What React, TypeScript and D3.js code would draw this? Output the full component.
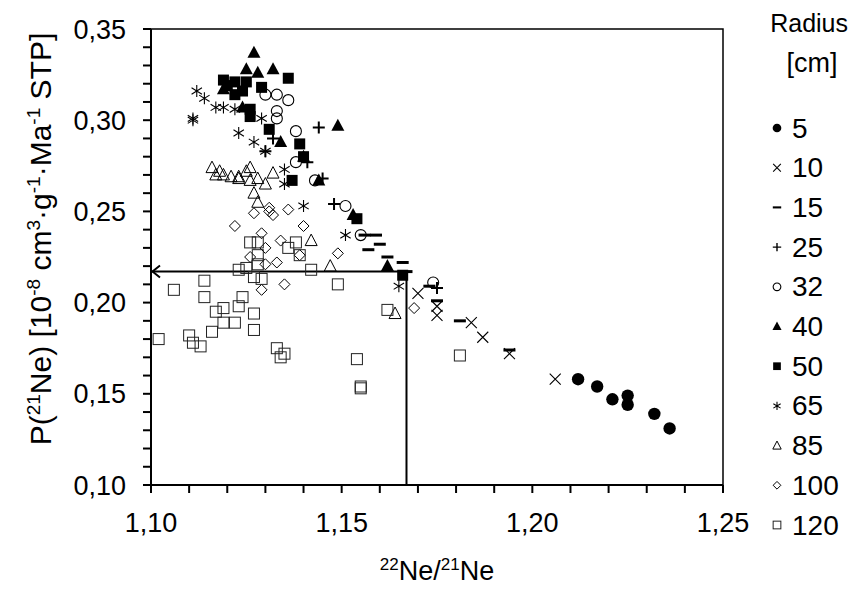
import React from 'react';
import * as d3 from 'd3';

// radius series: [22Ne/21Ne, P(21Ne)]
const r5 = [[1.212, 0.158], [1.217, 0.154], [1.221, 0.147], [1.225, 0.149], [1.225, 0.144], [1.232, 0.139], [1.236, 0.131]];
const r10 = [[1.170, 0.205], [1.175, 0.198], [1.175, 0.193], [1.184, 0.189], [1.187, 0.181], [1.194, 0.172], [1.206, 0.158]];
const r15 = [[1.156, 0.237], [1.159, 0.237], [1.160, 0.232], [1.157, 0.229], [1.162, 0.225], [1.166, 0.222], [1.167, 0.217],
  [1.173, 0.209], [1.175, 0.201], [1.181, 0.190], [1.194, 0.174]];
const r25 = [[1.144, 0.296], [1.132, 0.290], [1.130, 0.283], [1.141, 0.277], [1.145, 0.268], [1.148, 0.254], [1.175, 0.208]];
const r32 = [[1.130, 0.314], [1.133, 0.314], [1.136, 0.311], [1.133, 0.305], [1.133, 0.301], [1.138, 0.294], [1.138, 0.277],
  [1.143, 0.267], [1.151, 0.253], [1.155, 0.237], [1.174, 0.211]];
const r40 = [[1.127, 0.337], [1.125, 0.328], [1.128, 0.326], [1.132, 0.328], [1.119, 0.317], [1.124, 0.307], [1.134, 0.288],
  [1.149, 0.297], [1.140, 0.280], [1.144, 0.267], [1.153, 0.248], [1.162, 0.220]];
const r50 = [[1.119, 0.322], [1.122, 0.321], [1.125, 0.321], [1.129, 0.318], [1.120, 0.319], [1.124, 0.316], [1.122, 0.314],
  [1.126, 0.306], [1.126, 0.302], [1.131, 0.295], [1.136, 0.323], [1.139, 0.287], [1.140, 0.280], [1.137, 0.267],
  [1.154, 0.246], [1.166, 0.215]];
const r65 = [[1.112, 0.316], [1.114, 0.312], [1.111, 0.301], [1.111, 0.300], [1.119, 0.307], [1.117, 0.307], [1.122, 0.306],
  [1.129, 0.301], [1.123, 0.293], [1.127, 0.288], [1.130, 0.283], [1.135, 0.273], [1.135, 0.265], [1.140, 0.253],
  [1.151, 0.237], [1.165, 0.209]];
const r85 = [[1.116, 0.274], [1.118, 0.272], [1.117, 0.270], [1.119, 0.270], [1.121, 0.269], [1.123, 0.269], [1.123, 0.268],
  [1.125, 0.272], [1.126, 0.274], [1.126, 0.267], [1.128, 0.268], [1.130, 0.265], [1.132, 0.271], [1.127, 0.260],
  [1.128, 0.255], [1.142, 0.234], [1.147, 0.220], [1.164, 0.194]];
const r100 = [[1.127, 0.249], [1.122, 0.242], [1.136, 0.251], [1.140, 0.242], [1.129, 0.238], [1.134, 0.234], [1.130, 0.230],
  [1.126, 0.225], [1.130, 0.221], [1.133, 0.222], [1.149, 0.227], [1.135, 0.210], [1.129, 0.207], [1.131, 0.252],
  [1.131, 0.250], [1.132, 0.248], [1.139, 0.226], [1.169, 0.197]];
const r120 = [[1.126, 0.233], [1.128, 0.233], [1.138, 0.233], [1.136, 0.230], [1.139, 0.226], [1.128, 0.226], [1.128, 0.221],
  [1.125, 0.219], [1.123, 0.218], [1.142, 0.218], [1.127, 0.214], [1.129, 0.213], [1.149, 0.210], [1.114, 0.212],
  [1.106, 0.207], [1.114, 0.203], [1.124, 0.203], [1.119, 0.197], [1.117, 0.195], [1.123, 0.198], [1.127, 0.194],
  [1.119, 0.189], [1.122, 0.189], [1.116, 0.184], [1.127, 0.185], [1.102, 0.180], [1.110, 0.182], [1.111, 0.178],
  [1.113, 0.176], [1.133, 0.175], [1.135, 0.172], [1.134, 0.170], [1.154, 0.169], [1.155, 0.154], [1.155, 0.153],
  [1.162, 0.196], [1.181, 0.171]];

const radii = ['5', '10', '15', '25', '32', '40', '50', '65', '85', '100', '120'];
const seriesData = [r5, r10, r15, r25, r32, r40, r50, r65, r85, r100, r120];
const markerKinds = ['dot', 'x', 'dash', 'plus', 'circle', 'tri', 'sq', 'star', 'otri', 'diamond', 'osq'];

const xTicks = d3.range(0, 16).map(i => 1.10 + i * 0.01);
const yTicks = d3.range(0, 26).map(i => 0.10 + i * 0.01);
const xLabels = [1.10, 1.15, 1.20, 1.25];
const yLabels = [0.10, 0.15, 0.20, 0.25, 0.30, 0.35];

const refRatio = 1.167;
const refProd = 0.217;

const FONT = '"Liberation Sans", Arial, sans-serif';
const fmt = (v: number) => d3.format('.2f')(v).replace('.', ',');

function Marker({ kind, x, y, k = 1 }: { kind: string; x: number; y: number; k?: number }) {
  const t = `translate(${x},${y}) scale(${k})`;
  const sw = 1 / k;
  switch (kind) {
    case 'dot':
      return <circle transform={t} r={6.2} fill="#000" />;
    case 'x':
      return <path transform={t} d="M-5.5,-5.5L5.5,5.5M-5.5,5.5L5.5,-5.5" stroke="#000" strokeWidth={1.1 * sw} fill="none" />;
    case 'dash':
      return <path transform={t} d="M-6,0H6" stroke="#000" strokeWidth={3} fill="none" />;
    case 'plus':
      return <path transform={t} d="M-6,0H6M0,-6V6" stroke="#000" strokeWidth={2} fill="none" />;
    case 'circle':
      return <circle transform={t} r={5.5} stroke="#000" strokeWidth={1.1 * sw} fill="none" />;
    case 'tri':
      return <path transform={t} d="M0,-7L6.5,5L-6.5,5Z" fill="#000" />;
    case 'sq':
      return <rect transform={t} x={-5.5} y={-5.5} width={11} height={11} fill="#000" />;
    case 'star':
      return <path transform={t} d="M0,-6V6M-5.2,-3.2L5.2,3.2M-5.2,3.2L5.2,-3.2" stroke="#000" strokeWidth={1.1 * sw} fill="none" />;
    case 'otri':
      return <path transform={t} d="M0,-6.5L6,5L-6,5Z" stroke="#000" strokeWidth={1 * sw} fill="none" />;
    case 'diamond':
      return <path transform={t} d="M0,-5.5L5.5,0L0,5.5L-5.5,0Z" stroke="#000" strokeWidth={1 * sw} fill="none" />;
    default:
      return <rect transform={t} x={-5.5} y={-5.5} width={11} height={11} stroke="#222" strokeWidth={1 * sw} fill="none" />;
  }
}

export default function App() {
  const x = d3.scaleLinear().domain([1.10, 1.25]).range([151, 723]);
  const y = d3.scaleLinear().domain([0.10, 0.35]).range([485, 29]);
  const [x0, x1] = x.range();
  const [y0, y1] = y.range();

  const fs = 27;
  const supSize = 17;

  return (
    <svg width={851} height={590} style={{ position: 'absolute', left: 0, top: 0, background: '#fff' }} fontFamily={FONT}>
      <rect width={851} height={590} fill="#fff" />

      {/* frame */}
      <path d={`M${x0},${y1}H${x1}V${y0}`} stroke="#000" strokeWidth={1.5} fill="none" />

      {/* reference lines */}
      <path d={`M${x(refRatio)},${y(0.10)}V${y(refProd)}H${x0 + 1}`} stroke="#000" strokeWidth={2} fill="none" />
      <path d={`M${x0 + 9},${y(refProd) - 6}L${x0 + 1.5},${y(refProd)}L${x0 + 9},${y(refProd) + 6}`} stroke="#000" strokeWidth={2} fill="none" />

      {/* points */}
      {seriesData.map((s, i) => (
        <g key={radii[i]}>
          {s.map((d, j) => <Marker key={j} kind={markerKinds[i]} x={x(d[0])} y={y(d[1])} />)}
        </g>
      ))}

      {/* axes */}
      <line x1={x0} x2={x1} y1={y0} y2={y0} stroke="#000" strokeWidth={2} />
      <line x1={x0} x2={x0} y1={y0} y2={y1} stroke="#000" strokeWidth={2} />
      {xTicks.map((t, i) => (
        <line key={i} x1={x(t)} x2={x(t)} y1={y0} y2={y0 + 8} stroke="#000" strokeWidth={2} />
      ))}
      {yTicks.map((t, i) => (
        <line key={i} x1={x0 - 8} x2={x0} y1={y(t)} y2={y(t)} stroke="#000" strokeWidth={2} />
      ))}
      {xLabels.map(t => (
        <text key={t} x={x(t)} y={y0 + 47} textAnchor="middle" fontSize={fs}>{fmt(t)}</text>
      ))}
      {yLabels.map(t => (
        <text key={t} x={x0 - 25} y={y(t) + 9.5} textAnchor="end" fontSize={fs}>{fmt(t)}</text>
      ))}

      {/* axis titles */}
      <text x={437} y={580} textAnchor="middle" fontSize={fs}>
        <tspan fontSize={supSize} dy={-10}>22</tspan>
        <tspan dy={10}>Ne/</tspan>
        <tspan fontSize={supSize} dy={-10}>21</tspan>
        <tspan dy={10}>Ne</tspan>
      </text>
      <text transform="translate(51,239) rotate(-90)" textAnchor="middle" fontSize={30}>
        <tspan>P(</tspan>
        <tspan fontSize={19} dy={-11}>21</tspan>
        <tspan dy={11}>Ne) [10</tspan>
        <tspan fontSize={19} dy={-11}>-8</tspan>
        <tspan dy={11}> cm</tspan>
        <tspan fontSize={19} dy={-11}>3</tspan>
        <tspan dy={11}>·g</tspan>
        <tspan fontSize={19} dy={-11}>-1</tspan>
        <tspan dy={11}>·Ma</tspan>
        <tspan fontSize={19} dy={-11}>-1</tspan>
        <tspan dy={11}> STP]</tspan>
      </text>

      {/* legend */}
      <text x={848} y={32} textAnchor="end" fontSize={25}>Radius</text>
      <text x={812} y={72} textAnchor="middle" fontSize={fs}>[cm]</text>
      {radii.map((r, i) => {
        const ly = 128 + i * 39.7;
        return (
          <g key={r}>
            <Marker kind={markerKinds[i]} x={777} y={ly} k={0.7} />
            <text x={792} y={ly + 9.5} fontSize={28}>{r}</text>
          </g>
        );
      })}
    </svg>
  );
}
